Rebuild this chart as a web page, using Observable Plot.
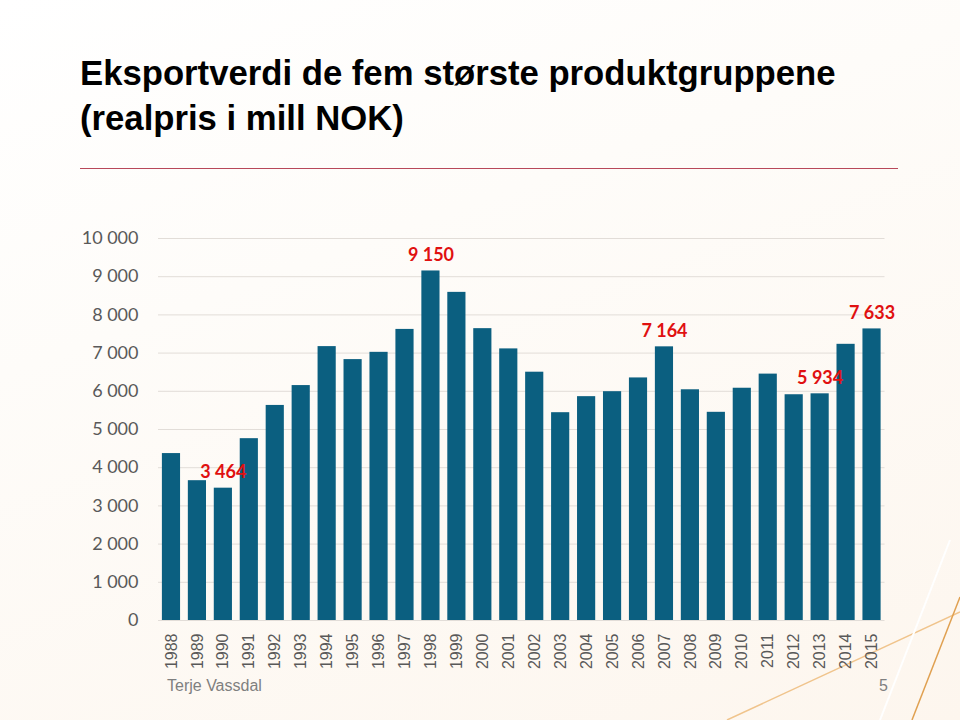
<!DOCTYPE html>
<html>
<head>
<meta charset="utf-8">
<script src="https://cdn.jsdelivr.net/npm/d3@7"></script>
<script src="https://cdn.jsdelivr.net/npm/@observablehq/plot@0.6"></script>
<style>
  html, body { margin: 0; padding: 0; }
  body { width: 960px; height: 720px; overflow: hidden; position: relative;
    background: linear-gradient(160deg, #ffffff 0%, #fefcf9 35%, #fdf6ee 100%); }
  #title { position: absolute; left: 80px; top: 51px; font-family: "Liberation Sans", Arial, sans-serif;
    font-weight: bold; font-size: 34.7px; line-height: 45px; color: #000; }
  #rule { position: absolute; left: 80px; top: 168px; width: 818px; height: 1px; background: #b8485a; }
  #chart { position: absolute; left: 0; top: 200px; }
  #footer { position: absolute; left: 167px; top: 677px; font-family: "Liberation Sans", Arial, sans-serif;
    font-size: 16px; color: #7f7f7f; }
  #page { position: absolute; left: 879px; top: 677px; font-family: "Liberation Sans", Arial, sans-serif;
    font-size: 16px; color: #7f7f7f; }
  #deco { position: absolute; left: 0; top: 0; }
</style>
</head>
<body>
<svg id="deco" width="960" height="720">
  <line x1="727" y1="720" x2="960" y2="612" stroke="#f0c48c" stroke-width="1.5"/>
  <line x1="912" y1="720" x2="960" y2="597" stroke="#e0a050" stroke-width="1.5"/>
  <line x1="880" y1="720" x2="950" y2="540" stroke="#ffffff" stroke-width="2"/>
</svg>
<div id="title">Eksportverdi de fem største produktgruppene<br>(realpris i mill NOK)</div>
<div id="rule"></div>
<div id="chart"></div>
<div id="footer">Terje Vassdal</div>
<div id="page">5</div>
<script>
const years = ["1988","1989","1990","1991","1992","1993","1994","1995","1996","1997","1998","1999","2000","2001",
  "2002","2003","2004","2005","2006","2007","2008","2009","2010","2011","2012","2013","2014","2015"];
const values = [4370,3660,3464,4760,5630,6150,7170,6830,7020,7620,9150,8590,7640,7110,
  6500,5440,5860,5990,6350,7164,6040,5450,6080,6450,5910,5934,7230,7633];
const labelYears = ["1990","1998","2007","2013","2015"];
const labelValues = [3464,9150,7164,5934,7633];
const yTicks = [0,1000,2000,3000,4000,5000,6000,7000,8000,9000,10000];

const fmt = d => d3.format(",")(d).replace(/,/g, " ");
const data = years.map((y, i) => ({year: y, value: values[i]}));
const labels = labelYears.map((y, i) => ({year: y, value: labelValues[i], text: fmt(labelValues[i])}));

const chart = Plot.plot({
  width: 960,
  height: 480,
  marginLeft: 158,
  marginRight: 75.5,
  marginTop: 38,
  marginBottom: 60,
  style: {background: "transparent", color: "#595959", overflow: "visible"},
  x: {domain: years, paddingInner: 0.3, paddingOuter: 0.15, round: false, label: null},
  y: {domain: [0, 10000], label: null},
  marks: [
    Plot.ruleY(yTicks, {stroke: "#e2ddd8", strokeWidth: 1}),
    Plot.barY(data, {x: "year", y: "value", fill: "#0b5f80"}),
    Plot.axisY({ticks: yTicks, tickFormat: fmt, tickSize: 0, tickPadding: 20, fontSize: 18,
      fontFamily: "Lato, 'Open Sans', sans-serif", label: null}),
    Plot.axisX({tickSize: 0, tickPadding: 13, tickRotate: -90, fontSize: 16,
      fontFamily: "'Liberation Sans', Arial, sans-serif", label: null}),
    Plot.text(labels, {x: "year", y: "value", text: "text", dy: -10, lineAnchor: "bottom",
      fill: "#e01010", fontSize: 18, fontWeight: "bold", fontFamily: "Lato, 'Open Sans', sans-serif"})
  ]
});
document.getElementById("chart").appendChild(chart);
</script>
</body>
</html>
